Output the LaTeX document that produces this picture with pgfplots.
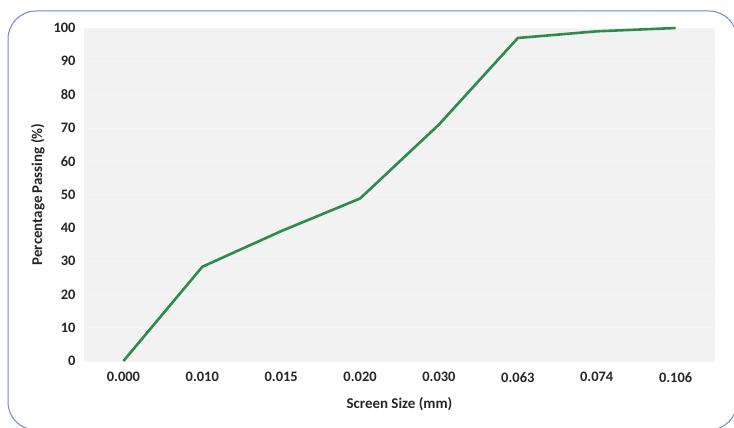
\documentclass[border=0pt]{standalone}
\usepackage{pgfplots}
\pgfplotsset{compat=1.18}
\usepackage{fontspec}
\setmainfont{Carlito}
\definecolor{linegreen}{HTML}{2F8A4E}
\definecolor{boxblue}{HTML}{7088C8}
\definecolor{plotbg}{HTML}{F2F2F2}
\begin{document}
\begin{tikzpicture}[x=1bp,y=1bp]
\path[use as bounding box] (0,0) rectangle (734,427);
\begin{scope}
\clip (0,0) rectangle (734,427);
\draw[boxblue, line width=1bp, rounded corners=28bp] (8,416) rectangle (737,-3);
\end{scope}
\begin{axis}[
  at={(84bp,66bp)}, anchor=south west,
  scale only axis, width=631bp, height=333bp,
  xmin=-0.5, xmax=7.5, ymin=0, ymax=100,
  xtick={0,...,7},
  xticklabels={0.000,0.010,0.015,0.020,0.030,0.063,0.074,0.106},
  ytick={0,10,...,100},
  axis line style={draw=none},
  axis background/.style={fill=plotbg},
  major tick length=0pt,
  ymajorgrids, grid style={white!92!gray, line width=0.6bp},
  tick label style={font=\fontsize{14.5}{15}\selectfont\bfseries, text=black!85},
  /pgf/number format/assume math mode=true,
  yticklabel style={xshift=-5bp},
  xticklabel style={yshift=-8bp},
  xlabel={Screen Size (mm)},
  ylabel={Percentage Passing (\%)},
  label style={font=\fontsize{15}{16}\selectfont\bfseries, text=black!85},
  xlabel style={yshift=-8bp},
  ylabel style={yshift=2bp},
  clip=false,
]
\addplot[linegreen, line width=2.6bp, mark=none] coordinates {
(0,0) (1,28.3) (2,39) (3,48.8) (4,71) (5,97) (6,99) (7,100)
};
\end{axis}
\end{tikzpicture}
\end{document}
